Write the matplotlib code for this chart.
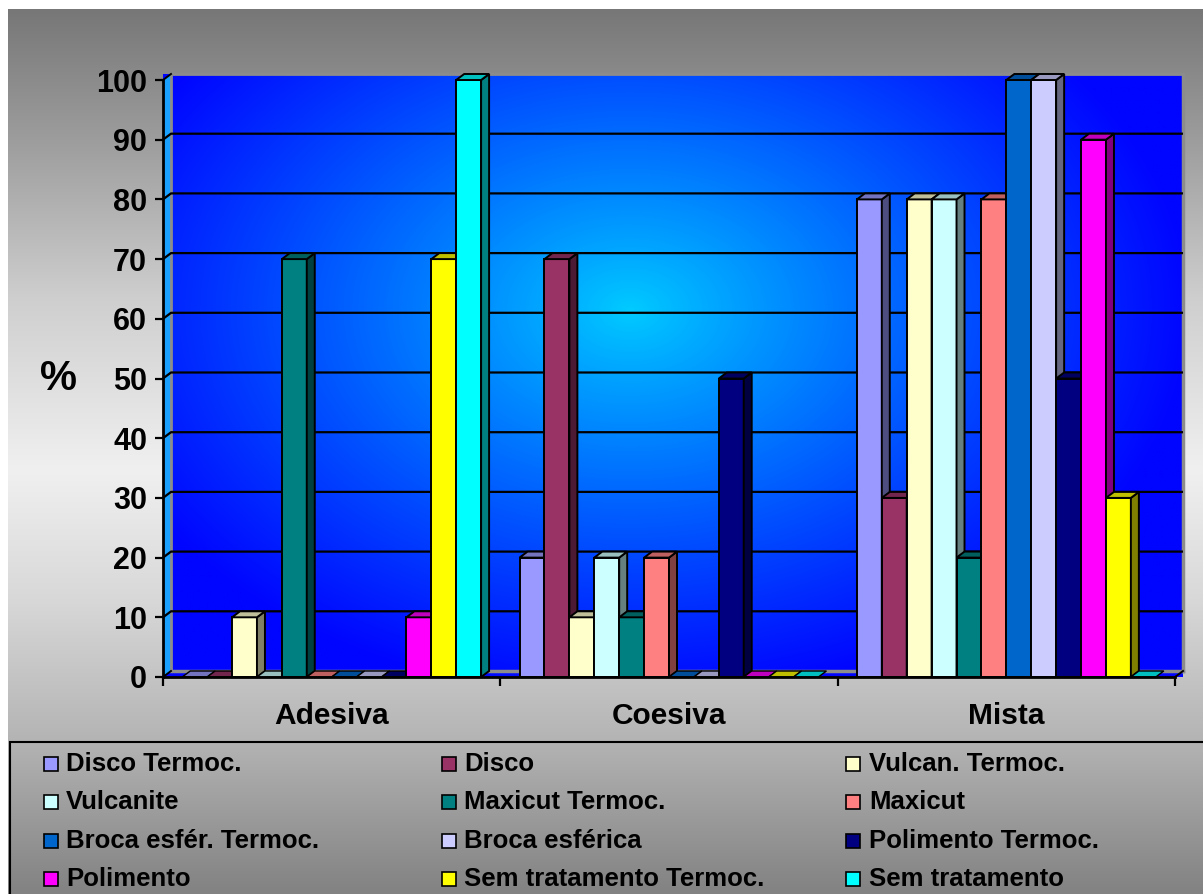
import numpy as np
import matplotlib
matplotlib.use("Agg")
import matplotlib.pyplot as plt
from matplotlib.patches import Polygon, Rectangle
from matplotlib.colors import to_rgb

plt.rcParams['font.family'] = ['Liberation Sans', 'DejaVu Sans']

# ---- data -------------------------------------------------------------
categories = ["Adesiva", "Coesiva", "Mista"]

series_names = [
    "Disco Termoc.", "Disco", "Vulcan. Termoc.",
    "Vulcanite", "Maxicut Termoc.", "Maxicut",
    "Broca esfér. Termoc.", "Broca esférica", "Polimento Termoc.",
    "Polimento", "Sem tratamento Termoc.", "Sem tratamento",
]

series_colors = [
    "#9999FF", "#993366", "#FFFFCC",
    "#CCFFFF", "#008080", "#FF8080",
    "#0066CC", "#CCCCFF", "#000080",
    "#FF00FF", "#FFFF00", "#00FFFF",
]

# percentage of each failure type, one value per series
adesiva = [0, 0, 10, 0, 70, 0, 0, 0, 0, 10, 70, 100]
coesiva = [20, 70, 10, 20, 10, 20, 0, 0, 50, 0, 0, 0]
mista = [80, 30, 80, 80, 20, 80, 100, 100, 50, 90, 30, 0]

y_ticks = list(range(0, 101, 10))

# ---- figure -----------------------------------------------------------
W, H = 1203, 894
fig = plt.figure(figsize=(W / 100, H / 100), dpi=100)
fig.patch.set_facecolor("white")

# grey chart-area background
bg = fig.add_axes([8 / W, 0, 1 - 8 / W, 1 - 9 / H])
ys = np.linspace(9, H, 400)
stops_y = [9, 150, 300, 470, 600, 740, 894]
stops_v = [0x77, 0xA0, 0xCF, 0xF0, 0xD8, 0xB4, 0x82]
col = np.interp(ys, stops_y, stops_v) / 255.0
grad = np.repeat(col[:, None], 4, axis=1)
bg.imshow(np.dstack([grad, grad, grad]), aspect="auto", extent=[0, 1, 0, 1],
          interpolation="bilinear")
bg.set_axis_off()

# plotting axes (front plane)
x_left, x_right, y_bot, y_top = 163, 1175, 677, 80
ax = fig.add_axes([x_left / W, (H - y_bot) / H, (x_right - x_left) / W, (y_bot - y_top) / H])
ax.patch.set_visible(False)

px_per_x = (x_right - x_left) / 3.0
px_per_y = (y_bot - y_top) / 100.0
dx = 8 / px_per_x   # depth offset, horizontal
dy = 6 / px_per_y   # depth offset, vertical

# blue radial gradient for the back wall and floor
nx, ny = 600, 400
gx = np.linspace(-0.5, 2.5 + dx, nx)
gy = np.linspace(100 + dy, 0, ny)
GX, GY = np.meshgrid(gx, gy)
PX = x_left + (GX + 0.5) * px_per_x
PY = y_bot - GY * px_per_y
r = np.sqrt(((PX - 630) / 560.0) ** 2 + ((PY - 310) / 390.0) ** 2)
t = np.clip(r, 0, 1) ** 0.9
R = np.zeros_like(t)
G = (0xCC / 255.0) * (1 - t) + (0x05 / 255.0) * t
B = np.ones_like(t)
wall_img = np.dstack([R, G, B])

wall_shape = Polygon([(-0.5, 0), (2.5, 0), (2.5 + dx, dy), (2.5 + dx, 100 + dy),
                      (-0.5 + dx, 100 + dy), (-0.5, 100)],
                     closed=True, transform=ax.transData, facecolor="none", edgecolor="none")
ax.add_patch(wall_shape)
im = ax.imshow(wall_img, extent=[-0.5, 2.5 + dx, 0, 100 + dy], aspect="auto",
               interpolation="bilinear", zorder=0.5, clip_on=False)
im.set_clip_path(wall_shape)

# left side wall strip
ax.add_patch(Polygon([(-0.5, 0), (-0.5 + dx, dy), (-0.5 + dx, 100 + dy), (-0.5, 100)],
                     closed=True, facecolor="#1AA0FF", edgecolor="none",
                     zorder=0.6, clip_on=False))

# gridlines on the back wall with their connectors to the front axis
for v in y_ticks:
    if 0 < v < 100:
        ax.plot([-0.5, -0.5 + dx, 2.5 + dx], [v, v + dy, v + dy], color="black",
                lw=1.6, zorder=0.8, clip_on=False, solid_capstyle="butt")
    else:
        ax.plot([-0.5, -0.5 + dx], [v, v + dy], color="black", lw=1.4,
                zorder=0.8, clip_on=False)

# wall border
wall_edge = "#8C8C8C"
ax.plot([-0.5 + dx, -0.5 + dx], [dy, 100 + dy], color=wall_edge, lw=2, zorder=0.7, clip_on=False)
ax.plot([-0.5 + dx, 2.5 + dx], [dy, dy], color=wall_edge, lw=2.5, zorder=0.7, clip_on=False)
ax.plot([-0.5 + dx, 2.5 + dx], [100 + dy, 100 + dy], color=wall_edge, lw=2, zorder=0.7, clip_on=False)
ax.plot([2.5 + dx, 2.5 + dx], [dy, 100 + dy], color=wall_edge, lw=2.5, zorder=0.7, clip_on=False)
ax.plot([2.5, 2.5 + dx], [0, dy], color="black", lw=1.4, zorder=0.9, clip_on=False)


def shade(color, f):
    rgb = np.array(to_rgb(color))
    return tuple(rgb * f)


# ---- 3-D style bars ---------------------------------------------------
group_frac = 0.886
n_series = len(series_names)
bar_w = group_frac / n_series
table = [adesiva, coesiva, mista]

z = 2.0
for c, vals in enumerate(table):
    for i, (h, color) in enumerate(zip(vals, series_colors)):
        x0 = c - group_frac / 2 + i * bar_w
        x1 = x0 + bar_w
        if h > 0:
            ax.add_patch(Rectangle((x0, 0), bar_w, h, facecolor=color, edgecolor="black",
                                   lw=1.4, zorder=z, clip_on=False))
            ax.add_patch(Polygon([(x1, 0), (x1 + dx, dy), (x1 + dx, h + dy), (x1, h)],
                                 closed=True, facecolor=shade(color, 0.5), edgecolor="black",
                                 lw=1.4, zorder=z, clip_on=False, joinstyle="miter"))
        ax.add_patch(Polygon([(x0, h), (x0 + dx, h + dy), (x1 + dx, h + dy), (x1, h)],
                             closed=True, facecolor=shade(color, 0.75), edgecolor="black",
                             lw=1.4 if h > 0 else 1.0, zorder=z, clip_on=False,
                             joinstyle="miter"))
        z += 0.01

# ---- axes, ticks, labels ---------------------------------------------
ax.set_xlim(-0.5, 2.5)
ax.set_ylim(0, 100)
for s in ("top", "right"):
    ax.spines[s].set_visible(False)
for s in ("left", "bottom"):
    ax.spines[s].set_linewidth(2)
    ax.spines[s].set_color("black")
    ax.spines[s].set_zorder(10)

ax.set_yticks(y_ticks)
ax.set_yticklabels([str(v) for v in y_ticks], fontsize=22, fontweight="bold")
ax.tick_params(axis="y", length=6, width=1.6, pad=5.5, colors="black")

ax.set_xticks([-0.5, 0.5, 1.5, 2.5])
ax.set_xticklabels([])
ax.tick_params(axis="x", which="major", length=6.5, width=1.6, direction="out")
ax.set_xticks([0, 1, 2], minor=True)
ax.set_xticklabels(categories, minor=True, fontsize=21.5, fontweight="bold")
ax.tick_params(axis="x", which="minor", length=0, pad=18)

ax.set_ylabel("%", rotation=0, fontsize=30, fontweight="bold", va="center", ha="center")
ax.yaxis.set_label_coords(-0.103, 0.5)

# ---- legend -----------------------------------------------------------
fig.patches.append(Rectangle((10 / W, -0.2), 1.2, (H - 742) / H + 0.2,
                             transform=fig.transFigure, fill=False,
                             edgecolor="black", lw=1.5))
marker_x = [44, 442, 846]
text_x = [66, 464, 869]
row_y = [764, 802, 841, 879]
msize = 14
for k, (name, color) in enumerate(zip(series_names, series_colors)):
    row, colm = divmod(k, 3)
    fig.patches.append(Rectangle((marker_x[colm] / W, (H - row_y[row] - msize / 2) / H),
                                 msize / W, msize / H, transform=fig.transFigure,
                                 facecolor=color, edgecolor="black", lw=1.2))
    fig.text(text_x[colm] / W, (H - row_y[row]) / H, name, ha="left", va="center",
             fontsize=18.5, fontweight="bold")

fig.savefig("out.png", dpi=100)
